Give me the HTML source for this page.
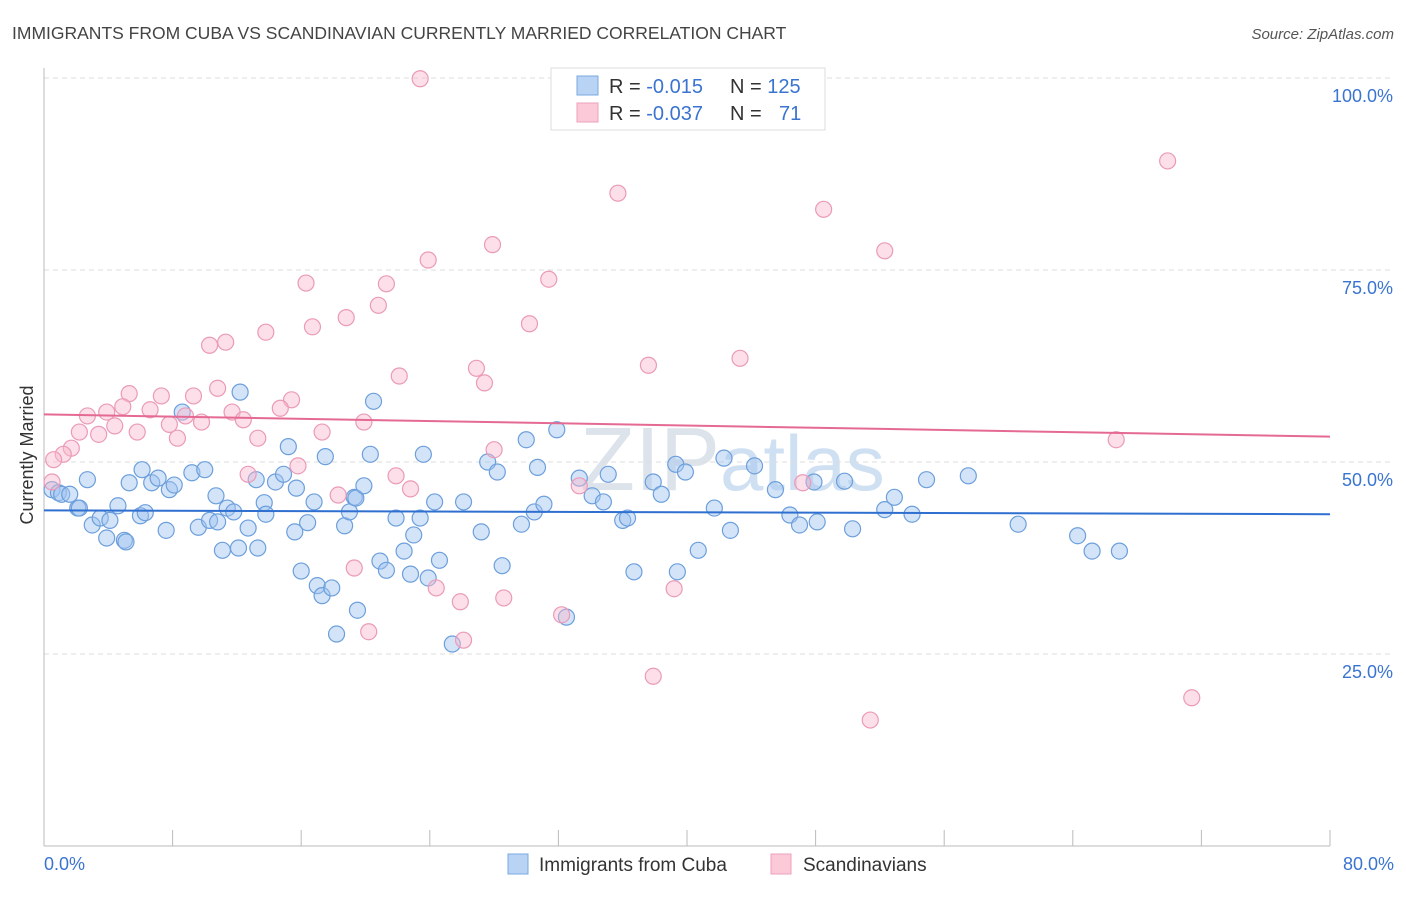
<!DOCTYPE html>
<html><head><meta charset="utf-8"><style>
body{margin:0;background:#fff;width:1406px;height:892px;overflow:hidden;font-family:"Liberation Sans",sans-serif}
svg text{font-family:"Liberation Sans",sans-serif}
</style></head><body>
<svg id="chart" width="1406" height="892">
<text x="12" y="39" font-size="17.5" fill="#444">IMMIGRANTS FROM CUBA VS SCANDINAVIAN CURRENTLY MARRIED CORRELATION CHART</text>
<text x="1394" y="39" font-size="15" fill="#555" font-style="italic" text-anchor="end">Source: ZipAtlas.com</text>
<text x="720" y="490" font-size="90" fill="#dde3ea" text-anchor="end" font-family="Liberation Serif">ZIP</text>
<text x="720" y="490" font-size="78" fill="#cfe0f3">atlas</text>
<g id="grid"></g><g id="pts"></g><g id="trend"></g>
<text transform="translate(33,455) rotate(-90)" font-size="18" fill="#333" text-anchor="middle">Currently Married</text>
<g>
<rect x="551" y="68" width="274" height="62" fill="#fff" stroke="#ddd"/>
<rect x="577" y="76" width="21" height="19" fill="#b9d3f5" stroke="#7aa8e0"/>
<rect x="577" y="103" width="21" height="19" fill="#fbc9d8" stroke="#eea0bb"/>
<text x="609" y="93" font-size="20" fill="#333">R = <tspan fill="#3a74d0">-0.015</tspan></text>
<text x="730" y="93" font-size="20" fill="#333">N = <tspan fill="#3a74d0">125</tspan></text>
<text x="609" y="120" font-size="20" fill="#333">R = <tspan fill="#3a74d0">-0.037</tspan></text>
<text x="730" y="120" font-size="20" fill="#333">N = <tspan fill="#3a74d0" x="779">71</tspan></text>
</g>
<g>
<rect x="508" y="854" width="20" height="20" fill="#b9d3f5" stroke="#7aa8e0"/>
<text x="539" y="871" font-size="19" fill="#333">Immigrants from Cuba</text>
<rect x="771" y="854" width="20" height="20" fill="#fbc9d8" stroke="#eea0bb"/>
<text x="803" y="871" font-size="19" fill="#333">Scandinavians</text>
</g>
</svg>
<script>
const cubaX=[0.5,0.9,1.1,1.6,2.7,2.1,2.2,3.0,3.5,4.1,3.9,4.6,5.0,5.1,5.3,6.0,6.3,6.1,6.7,7.1,7.8,8.1,7.6,8.6,9.2,9.6,10.0,10.3,10.7,10.8,11.1,11.4,11.8,12.1,12.2,12.7,13.2,13.3,13.7,13.8,14.4,14.9,15.2,15.6,15.7,16.0,16.4,16.8,17.0,17.3,17.5,17.9,18.2,18.7,19.0,19.3,19.4,19.5,19.9,20.3,20.5,20.9,21.3,21.9,22.4,22.8,23.0,23.4,23.6,23.9,24.3,24.6,25.4,26.1,27.2,27.6,28.2,28.5,29.7,30.0,30.5,30.7,31.1,31.9,32.5,33.3,34.1,34.8,35.1,36.0,36.3,36.7,37.9,38.4,39.3,39.4,39.9,40.7,41.7,42.3,42.7,44.2,45.5,46.4,47.0,47.9,48.1,49.8,50.3,52.3,52.9,54.0,54.9,57.5,60.6,64.3,65.2,66.9];
const cubaY=[46.4,46.0,45.8,45.8,47.7,44.0,44.0,41.8,42.7,42.4,40.1,44.3,39.8,39.6,47.3,43.0,43.4,49.0,47.3,47.9,46.4,47.0,41.1,56.5,48.6,41.5,49.0,42.4,45.6,42.2,38.5,44.0,43.5,38.8,59.1,41.4,47.7,38.8,44.7,43.2,47.4,48.4,52.0,40.9,46.6,35.8,42.1,44.8,33.9,32.6,50.7,33.6,27.6,41.7,43.5,45.4,45.3,30.7,46.9,51.0,57.9,37.1,35.9,42.7,38.4,35.4,40.5,42.7,51.0,34.9,44.8,37.2,26.3,44.8,40.9,50.0,48.7,36.5,41.9,52.9,43.5,49.3,44.5,54.2,29.8,47.9,45.6,44.8,48.4,42.4,42.7,35.7,47.4,45.8,49.7,35.7,48.7,38.5,44.0,50.5,41.1,49.5,46.4,43.1,41.8,47.4,42.2,47.5,41.3,43.8,45.4,43.2,47.7,48.2,41.9,40.4,38.4,38.4];
const scanX=[23.4,69.9,35.7,48.5,27.9,52.3,23.9,16.3,31.4,21.3,20.8,18.8,16.7,30.2,13.8,11.3,10.3,43.3,37.6,26.9,22.1,27.4,10.8,5.3,7.3,9.3,15.4,14.7,4.9,3.9,6.6,11.7,8.8,2.7,12.4,9.8,4.4,7.8,19.9,17.3,2.2,3.4,5.8,8.3,13.3,1.7,1.2,0.6,28.0,15.8,12.7,21.9,66.7,0.5,33.3,22.8,47.2,18.3,19.3,24.4,25.9,28.6,39.2,32.2,20.2,26.1,37.9,71.4,51.4];
const scanY=[99.9,89.2,85.0,82.9,78.3,77.5,76.3,73.3,73.8,73.2,70.4,68.8,67.6,68.0,66.9,65.6,65.2,63.5,62.6,62.2,61.2,60.3,59.6,58.9,58.6,58.6,58.1,57.0,57.2,56.5,56.8,56.5,56.0,56.0,55.5,55.2,54.7,54.9,55.2,53.9,53.9,53.6,53.9,53.1,53.1,51.8,51.0,50.3,51.6,49.5,48.4,48.2,52.9,47.4,46.9,46.5,47.3,45.7,36.2,33.6,31.8,32.3,33.5,30.1,27.9,26.8,22.1,19.3,16.4];
const cubaTrend=[43.7,43.2];
const scanTrend=[56.2,53.3];
const yTicks=[25,50,75,100];
const xTickVals=[0,8,16,24,32,40,48,56,64,72,80];
const NS='http://www.w3.org/2000/svg';
const xs=v=>44+v*(1330-44)/80;
const ys=v=>846-v*7.68;
function mk(tag,attrs,parent){const e=document.createElementNS(NS,tag);for(const k in attrs)e.setAttribute(k,attrs[k]);parent.appendChild(e);return e;}
const g=document.getElementById('grid'),svg=document.getElementById('chart');
yTicks.forEach(t=>{
 const l=mk('line',{x1:44,x2:1394,y1:ys(t),y2:ys(t),stroke:'#ddd','stroke-dasharray':'5,4'},g);
 
 
 const tx=mk('text',{x:1393,y:ys(t)+24,'font-size':18,fill:'#3a74d0','text-anchor':'end'},g);
 tx.textContent=t.toFixed(1)+'%';
 
 
});
const ax=mk('line',{x1:44,x2:44,y1:68,y2:846,stroke:'#bbb'},g);


const bx=mk('line',{x1:44,x2:1330,y1:846,y2:846,stroke:'#bbb'},g);


xTickVals.forEach(t=>{
 const l=mk('line',{x1:xs(t),x2:xs(t),y1:830,y2:846,stroke:'#bbb'},g);
 
 
});
[[0,'start'],[80,'end']].forEach(([t,a])=>{
 const tx=mk('text',{x:t===0?44:1394,y:870,'font-size':18,fill:'#3a74d0','text-anchor':a},g);
 tx.textContent=t.toFixed(1)+'%';
 
 
});
const p=document.getElementById('pts');
cubaX.forEach((v,i)=>{
 const c=mk('circle',{cx:xs(v),cy:ys(cubaY[i]),r:8,fill:'rgba(160,195,240,0.45)',stroke:'#6c9fdc','stroke-width':1.2},p);
 
 
});
scanX.forEach((v,i)=>{
 const c=mk('circle',{cx:xs(v),cy:ys(scanY[i]),r:8,fill:'rgba(248,185,205,0.45)',stroke:'#eb9ab8','stroke-width':1.2},p);
 
 
});
const tr=document.getElementById('trend');
const t1=mk('line',{x1:xs(0),x2:xs(80),y1:ys(cubaTrend[0]),y2:ys(cubaTrend[1]),stroke:'#2f6fd0','stroke-width':2},tr);


const t2=mk('line',{x1:xs(0),x2:xs(80),y1:ys(scanTrend[0]),y2:ys(scanTrend[1]),stroke:'#e56a93','stroke-width':2},tr);


</script>
</body></html>
